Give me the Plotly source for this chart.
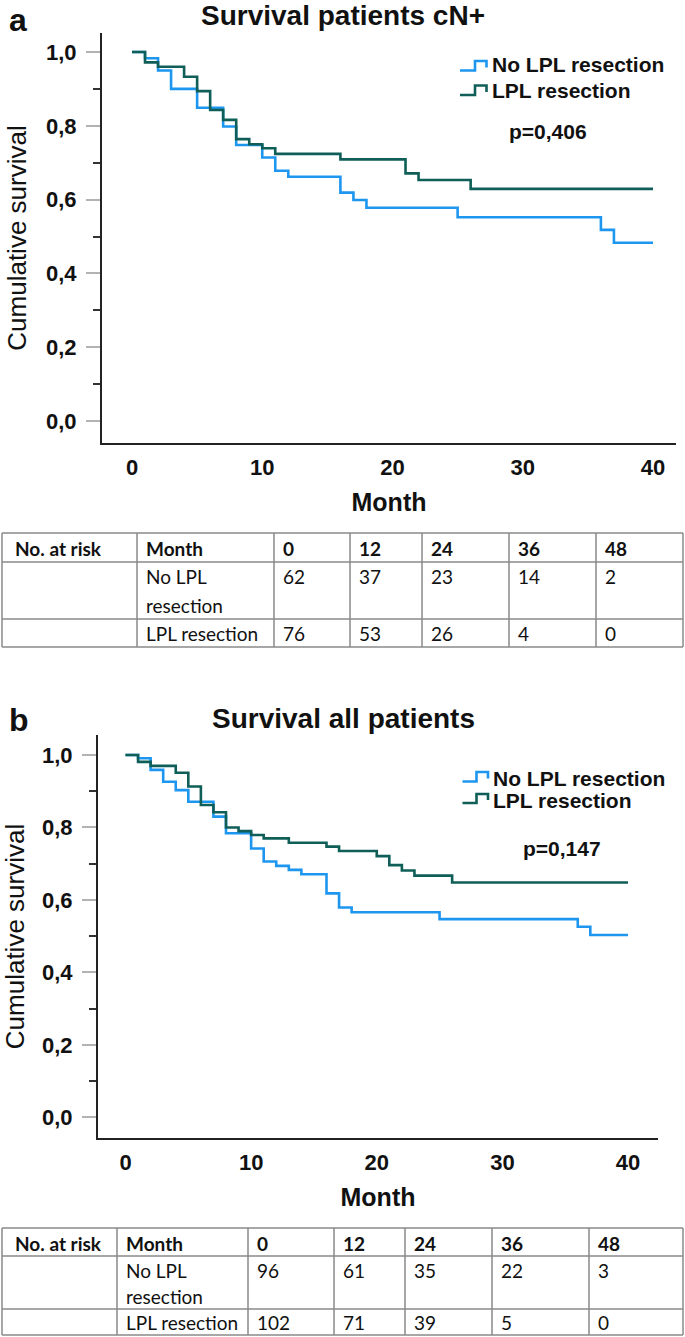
import plotly.graph_objects as go

W, H = 685, 1337


def px(x):
    return x / W


def py(y):
    return 1 - y / H


# ---------------- data ----------------
# Panel a: cN+ patients
a_no_months = [0, 1, 2, 3, 5, 7, 8, 10, 11, 12, 16, 17, 18, 25, 36, 37, 40]
a_no_surv = [1.0, 0.983, 0.950, 0.900, 0.849, 0.798, 0.748, 0.714, 0.678, 0.662,
             0.619, 0.599, 0.578, 0.552, 0.518, 0.483, 0.483]
a_lpl_months = [0, 1, 2, 4, 5, 6, 7, 8, 9, 10, 11, 16, 21, 22, 26, 40]
a_lpl_surv = [1.0, 0.972, 0.960, 0.933, 0.894, 0.843, 0.816, 0.764, 0.750, 0.739,
              0.724, 0.709, 0.671, 0.653, 0.629, 0.629]

# Panel b: all patients
b_no_months = [0, 1, 2, 3, 4, 5, 7, 8, 10, 11, 12, 13, 14, 16, 17, 18, 25, 36, 37, 40]
b_no_surv = [1.0, 0.991, 0.959, 0.926, 0.903, 0.871, 0.830, 0.784, 0.742, 0.706,
             0.694, 0.683, 0.671, 0.618, 0.579, 0.566, 0.547, 0.526, 0.503, 0.503]
b_lpl_months = [0, 1, 2, 4, 5, 6, 7, 8, 9, 10, 11, 13, 16, 17, 20, 21, 22, 23, 26, 40]
b_lpl_surv = [1.0, 0.981, 0.970, 0.951, 0.913, 0.862, 0.842, 0.800, 0.790, 0.779,
              0.770, 0.758, 0.747, 0.735, 0.721, 0.696, 0.681, 0.667, 0.648, 0.648]

group_names = ["No LPL resection", "LPL resection"]
x_ticks = [0, 10, 20, 30, 40]
y_ticks = [0.0, 0.2, 0.4, 0.6, 0.8, 1.0]
y_minor = [0.1, 0.3, 0.5, 0.7, 0.9]

risk_months = ["0", "12", "24", "36", "48"]
risk_a_no = [62, 37, 23, 14, 2]
risk_a_lpl = [76, 53, 26, 4, 0]
risk_b_no = [96, 61, 35, 22, 3]
risk_b_lpl = [102, 71, 39, 5, 0]

titles = ["Survival patients cN+", "Survival all patients"]
pvals = ["p=0,406", "p=0,147"]

# ---------------- style ----------------
BLUE = "#1d96ef"
GREEN = "#0f5e57"
ARIAL = "Liberation Sans, Arial, sans-serif"
TFONT = "Lato, Calibri, sans-serif"
LINEW = 2.6
GRID = "#8a8a8a"
TSIZE = 19

fig = go.Figure()

for xs, ys, col, nm, xa, ya in [
    (a_no_months, a_no_surv, BLUE, group_names[0], "x", "y"),
    (a_lpl_months, a_lpl_surv, GREEN, group_names[1], "x", "y"),
    (b_no_months, b_no_surv, BLUE, group_names[0], "x2", "y2"),
    (b_lpl_months, b_lpl_surv, GREEN, group_names[1], "x2", "y2"),
]:
    fig.add_trace(go.Scatter(x=xs, y=ys, mode="lines", name=nm,
                             line=dict(shape="hv", color=col, width=LINEW),
                             xaxis=xa, yaxis=ya, showlegend=False,
                             hoverinfo="x+y+name"))


def xaxis_cfg(left, right, x0, x40, anchor):
    s = (x40 - x0) / 40.0
    return dict(domain=[px(left), px(right)], range=[(left - x0) / s, (right - x0) / s],
                anchor=anchor, tickvals=x_ticks, ticks="", showline=True,
                linecolor="#222222", linewidth=2, showgrid=False, zeroline=False,
                tickfont=dict(family=ARIAL, size=22, color="#111", weight="bold"),
                ticklabelstandoff=4,
                title=dict(text="Month", font=dict(family=ARIAL, size=25, color="#111", weight="bold"),
                           standoff=14))


def yaxis_cfg(top, bottom, y1, y0, anchor):
    s = y0 - y1
    return dict(domain=[py(bottom), py(top)], range=[(y0 - bottom) / s, (y0 - top) / s],
                anchor=anchor, tickvals=y_ticks, tickformat=".1f", ticks="outside",
                ticklen=14, tickwidth=1.5, tickcolor="#b3b3b3", showline=True,
                linecolor="#222222", linewidth=2, showgrid=False, zeroline=False,
                tickfont=dict(family=ARIAL, size=22, color="#111", weight="bold"),
                ticklabelstandoff=5,
                minor=dict(tickvals=y_minor, ticks="outside", ticklen=7, tickwidth=1.5,
                           tickcolor="#333333", showgrid=False),
                title=dict(text="Cumulative survival", font=dict(family=ARIAL, size=26, color="#111"),
                           standoff=12))


fig.update_layout(
    width=W, height=H, margin=dict(l=0, r=0, t=0, b=0),
    paper_bgcolor="white", plot_bgcolor="white", separators=",.",
    showlegend=False,
    xaxis=xaxis_cfg(102, 676, 132, 653, "y"),
    yaxis=yaxis_cfg(33, 443, 52, 421, "x"),
    xaxis2=xaxis_cfg(98, 658, 125.5, 628, "y2"),
    yaxis2=yaxis_cfg(735, 1138, 755, 1117.3, "x2"),
)

ann = []
shapes = []


def text(x, y, s, size, bold=False, family=ARIAL, xanchor="center", yanchor="middle", align="left"):
    ann.append(dict(x=px(x), y=py(y), xref="paper", yref="paper", text=s, showarrow=False,
                    xanchor=xanchor, yanchor=yanchor, align=align,
                    font=dict(family=family, size=size, color="#111",
                              weight="bold" if bold else "normal")))


# panel labels and titles
text(18, 0, "a", 32, bold=True, yanchor="top")
text(343, 16, titles[0], 28, bold=True)
text(19, 700, "b", 32, bold=True, yanchor="top")
text(343, 718, titles[1], 28, bold=True)


# legends (step glyphs + text)
def legend(x0, xm, x1, low, high, col, label, ty):
    path = "M {:.5f},{:.5f} L {:.5f},{:.5f} L {:.5f},{:.5f} L {:.5f},{:.5f} L {:.5f},{:.5f}".format(
        px(x0), py(low), px(xm), py(low), px(xm), py(high), px(x1), py(high), px(x1), py(low - 3))
    shapes.append(dict(type="path", path=path, xref="paper", yref="paper",
                       line=dict(color=col, width=LINEW)))
    text(x1 + 3, ty, label, 21, bold=True, xanchor="left")


legend(460, 475, 486.5, 70.5, 61, BLUE, group_names[0], 65)
legend(460, 475, 486.5, 95, 85.5, GREEN, group_names[1], 90)
legend(462.5, 476.5, 488, 781.5, 772, BLUE, group_names[0], 778)
legend(462.5, 476.5, 488, 803, 794, GREEN, group_names[1], 800)

text(548, 132, pvals[0], 21, bold=True)
text(562, 848, pvals[1], 21, bold=True)


# at-risk tables
def table(cols, rows_y, text_y, no_vals, lpl_vals):
    for y in rows_y:
        shapes.append(dict(type="line", xref="paper", yref="paper", x0=px(cols[0]), x1=px(cols[-1]),
                           y0=py(y), y1=py(y), line=dict(color=GRID, width=1.5)))
    for x in cols:
        shapes.append(dict(type="line", xref="paper", yref="paper", x0=px(x), x1=px(x),
                           y0=py(rows_y[0]), y1=py(rows_y[-1]), line=dict(color=GRID, width=1.5)))
    pad = 7
    hy, r1a, r1b, r2 = text_y
    text(cols[0] + pad + 4, hy, "No. at risk", TSIZE, bold=True, family=TFONT, xanchor="left")
    text(cols[1] + pad, hy, "Month", TSIZE, bold=True, family=TFONT, xanchor="left")
    for j, m in enumerate(risk_months):
        text(cols[2 + j] + pad, hy, m, TSIZE, bold=True, family=TFONT, xanchor="left")
    text(cols[1] + pad, r1a, "No LPL", TSIZE, family=TFONT, xanchor="left")
    text(cols[1] + pad, r1b, "resection", TSIZE, family=TFONT, xanchor="left")
    text(cols[1] + pad, r2, "LPL resection", TSIZE, family=TFONT, xanchor="left")
    for j in range(len(risk_months)):
        text(cols[2 + j] + pad, r1a, str(no_vals[j]), TSIZE, family=TFONT, xanchor="left")
        text(cols[2 + j] + pad, r2, str(lpl_vals[j]), TSIZE, family=TFONT, xanchor="left")


table([2, 137, 274, 350, 422, 509, 596, 683], [533, 562, 619, 647], [548, 577, 605, 633],
      risk_a_no, risk_a_lpl)
table([2, 117, 248, 334, 405, 492, 589, 683], [1228, 1256, 1309, 1335], [1243, 1270, 1296, 1322],
      risk_b_no, risk_b_lpl)

fig.update_layout(annotations=ann, shapes=shapes)
fig.write_html("out.html", config={"displayModeBar": False},
               post_script="document.body.style.margin='0';document.body.style.overflow='hidden';")
